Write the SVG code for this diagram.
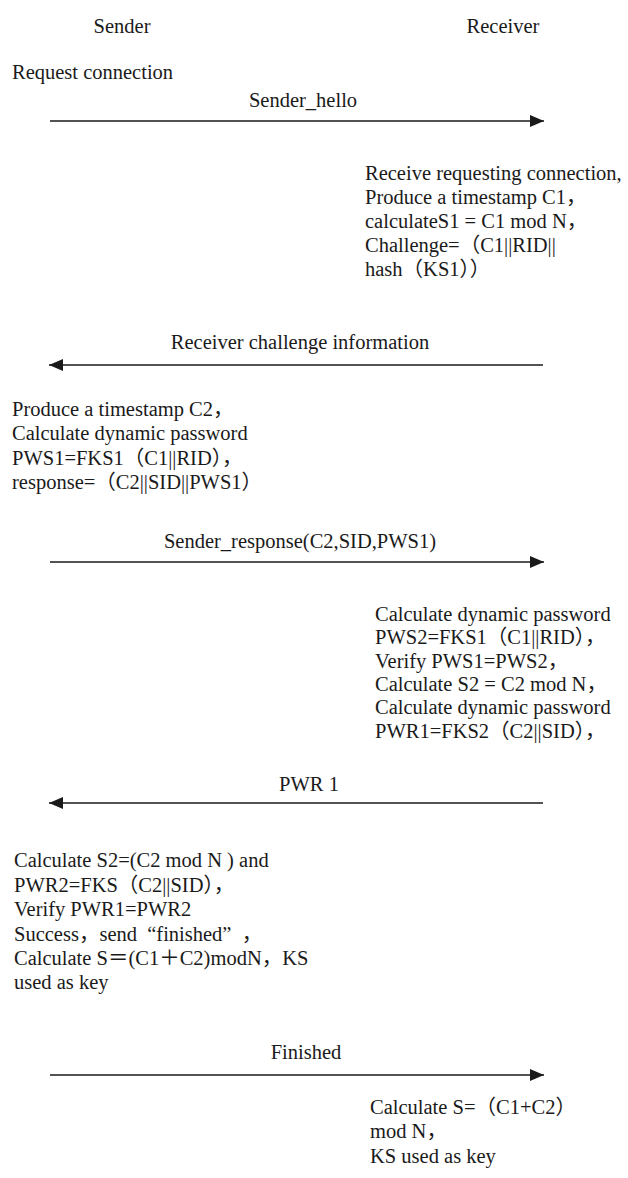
<svg xmlns="http://www.w3.org/2000/svg" width="628" height="1178" viewBox="0 0 628 1178">
<style>
text{font-family:"Liberation Serif","Noto Sans CJK SC",serif;font-size:20.5px;fill:#1a1a1a}
.c{text-anchor:middle}
.ln{stroke:#1a1a1a;stroke-width:1.6;fill:none}
</style>
<defs>
<marker id="ah" viewBox="0 0 14 12" refX="14" refY="6" markerWidth="14" markerHeight="12" markerUnits="userSpaceOnUse" orient="auto">
<path d="M0,0 L14,6 L0,12 z" fill="#1a1a1a"/>
</marker>
</defs>
<g id="sender"><text x="122" y="33" class="c">Sender</text></g>
<g id="receiver"><text x="503" y="33" class="c">Receiver</text></g>
<g id="n1"><text x="12" y="79">Request connection</text></g>
<g id="n2">
<text x="365" y="180">Receive requesting connection,</text>
<text x="365" y="204">Produce a timestamp C1，</text>
<text x="365" y="228">calculateS1 = C1 mod N，</text>
<text x="365" y="252">Challenge=（C1||RID||</text>
<text x="365" y="276">hash（KS1））</text>
</g>
<g id="n3">
<text x="12" y="416">Produce a timestamp C2，</text>
<text x="12" y="440">Calculate dynamic password</text>
<text x="12" y="465">PWS1=FKS1（C1||RID），</text>
<text x="12" y="489">response=（C2||SID||PWS1）</text>
</g>
<g id="n4">
<text x="375" y="621">Calculate dynamic password</text>
<text x="375" y="644">PWS2=FKS1（C1||RID），</text>
<text x="375" y="668">Verify PWS1=PWS2，</text>
<text x="375" y="691">Calculate S2 = C2 mod N，</text>
<text x="375" y="714">Calculate dynamic password</text>
<text x="375" y="738">PWR1=FKS2（C2||SID），</text>
</g>
<g id="n5">
<text x="14" y="867">Calculate S2=(C2 mod N ) and</text>
<text x="14" y="892">PWR2=FKS（C2||SID），</text>
<text x="14" y="916">Verify PWR1=PWR2</text>
<text x="14" y="941" xml:space="preserve">Success，send  “finished”  ，</text>
<text x="14" y="965">Calculate S＝(C1＋C2)modN，KS</text>
<text x="14" y="989">used as key</text>
</g>
<g id="n6">
<text x="370" y="1114">Calculate S=（C1+C2）</text>
<text x="370" y="1138">mod N，</text>
<text x="370" y="1163">KS used as key</text>
</g>
<g id="connectors">
<line class="ln" x1="50" y1="121" x2="544" y2="121" marker-end="url(#ah)"/>
<text x="303" y="107" class="c">Sender_hello</text>
<line class="ln" x1="543" y1="365" x2="49" y2="365" marker-end="url(#ah)"/>
<text x="300" y="349" class="c">Receiver challenge information</text>
<line class="ln" x1="50" y1="562" x2="544" y2="562" marker-end="url(#ah)"/>
<text x="300" y="548" class="c">Sender_response(C2,SID,PWS1)</text>
<line class="ln" x1="543" y1="803" x2="49" y2="803" marker-end="url(#ah)"/>
<text x="309" y="791" class="c">PWR 1</text>
<line class="ln" x1="50" y1="1075" x2="544" y2="1075" marker-end="url(#ah)"/>
<text x="306" y="1059" class="c">Finished</text>
</g>
</svg>
